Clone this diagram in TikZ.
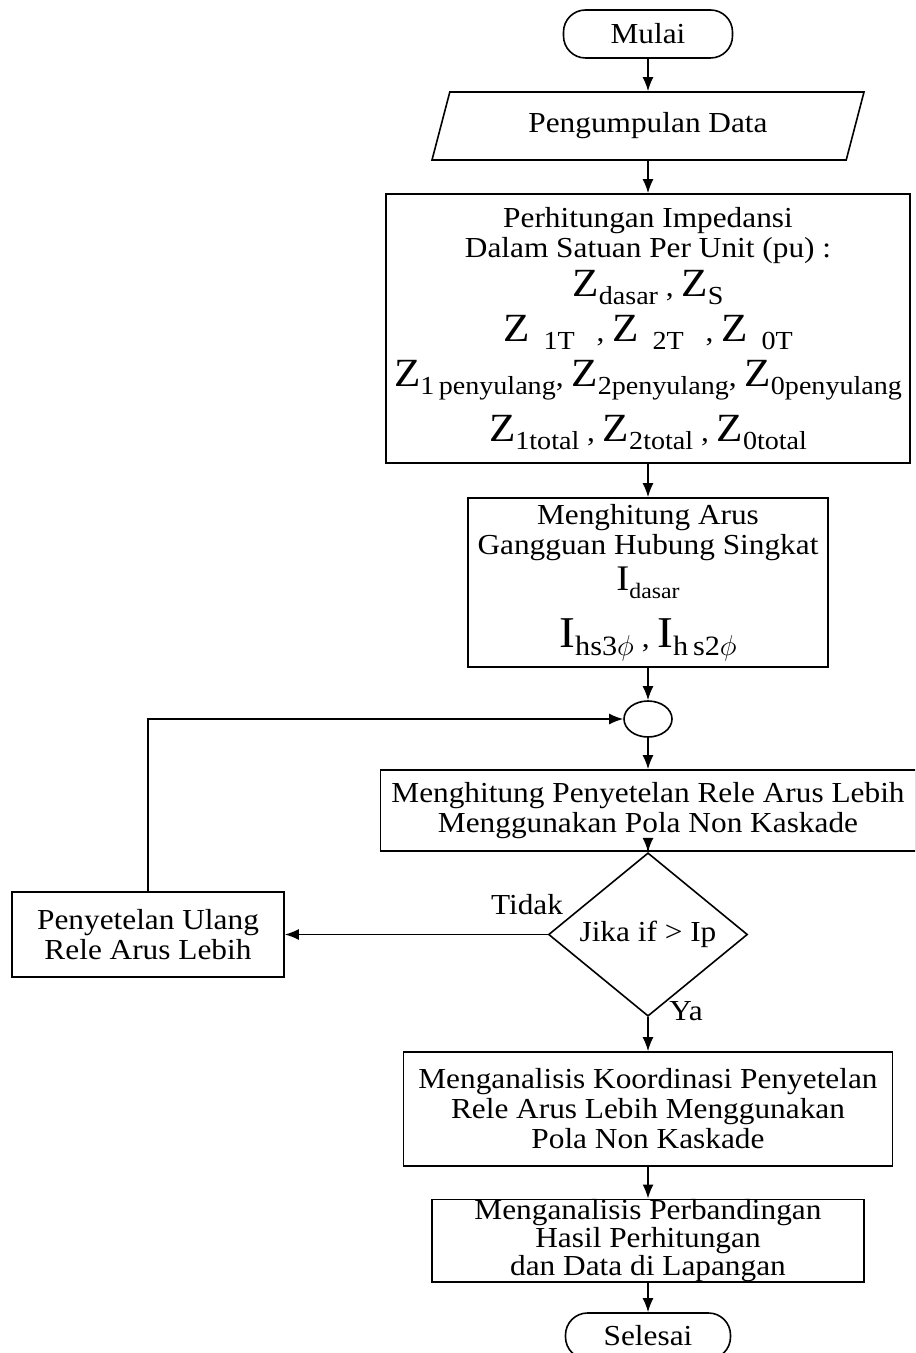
\documentclass[tikz,border=0pt]{standalone}
\usepackage{fontspec}
\setmainfont{Liberation Serif}[FakeStretch=1.08]
\usetikzlibrary{shapes.geometric,arrows.meta}
\tikzstyle{proses}=[draw=black, rectangle, align=center, inner sep=0pt]
\tikzstyle{terminal}=[draw=black, rectangle, rounded corners=11pt, inner sep=0pt]
\tikzstyle{masukan}=[draw=black, trapezium, trapezium left angle=56, trapezium right angle=124, trapezium stretches body, inner sep=0pt]
\tikzstyle{keputusan}=[draw=black, diamond, inner sep=0pt]
\tikzstyle{keterangan}=[inner sep=0pt]
\tikzstyle{panah}=[-{Latex[length=7pt,width=5.5pt]}]
\newcommand{\zsub}[1]{{\fontsize{20}{20}\selectfont Z}\raisebox{-4pt}{\fontsize{13}{13}\selectfont #1}}
\newcommand{\isub}[3]{{\fontsize{#1}{#1}\selectfont I}\raisebox{-4pt}{\fontsize{#2}{#2}\selectfont #3}}

\begin{document}
\begin{tikzpicture}[style=thick, x=0.5pt, y=-0.5pt, font=\fontsize{14.5}{15}\selectfont]
	\useasboundingbox (0,0) rectangle (915,1353);
	\clip (0,0) rectangle (915,1353);
	% alur utama
	\node[terminal, minimum width=84.5pt, minimum height=24pt] (mulai) at (648,34) {Mulai};
	\node[masukan, minimum width=216pt, minimum height=34pt] (data) at (648,126) {Pengumpulan Data};
	\node[proses, minimum width=262pt, minimum height=134.5pt] (imp) at (648,328.5) {Perhitungan Impedansi\\ Dalam Satuan Per Unit (pu) :\\[2.5pt]
		\zsub{dasar} , \zsub{S}\\[4pt]
		\zsub{\hspace{7pt}1T\hspace{7pt}} , \zsub{\hspace{7pt}2T\hspace{7pt}} , \zsub{\hspace{7pt}0T}\\[4.5pt]
		\zsub{1\,penyulang}, \zsub{2penyulang}, \zsub{0penyulang}\\[6.5pt]
		\zsub{1total} , \zsub{2total} , \zsub{0total}};
	\node[proses, minimum width=180pt, minimum height=84.5pt] (arus) at (648,582.5) {Menghitung Arus\\ Gangguan Hubung Singkat\\[3pt]
		\isub{18}{11}{dasar}\\[9pt]
		\isub{22}{14}{hs3$\phi$} , \isub{22}{14}{h\,s2$\phi$}};
	\node[draw=black, ellipse, inner sep=0pt, minimum width=24pt, minimum height=18pt] (gabung) at (648,719) {};
	\node[proses, minimum width=267.5pt, minimum height=40.5pt] (setel) at (648,810.5) {Menghitung Penyetelan Rele Arus Lebih\\ Menggunakan Pola Non Kaskade};
	\node[keputusan, minimum width=99.5pt, minimum height=57.5pt] (cek) at (648,934.5) {Jika if > Ip};
	\node[proses, minimum width=136pt, minimum height=42.5pt] (ulang) at (148,934.5) {Penyetelan Ulang\\ Rele Arus Lebih};
	\node[proses, minimum width=244.5pt, minimum height=57pt] (analisis) at (648,1109) {Menganalisis Koordinasi Penyetelan\\ Rele Arus Lebih Menggunakan\\ Pola Non Kaskade};
	\node[proses, minimum width=216pt, minimum height=40.5pt, font=\fontsize{14.5}{14}\selectfont] (banding) at (648,1240.5) {Menganalisis Perbandingan\\ Hasil Perhitungan\\ dan Data di Lapangan};
	\node[terminal, minimum width=82.5pt, minimum height=23pt] (selesai) at (648,1336) {Selesai};
	% label cabang
	\node[keterangan] (tidak) at (527,905) {Tidak};
	\node[keterangan] (ya) at (686,1011) {Ya};
	% panah
	\draw[panah] (mulai) -- (data);
	\draw[panah] (data) -- (imp);
	\draw[panah] (imp) -- (arus);
	\draw[panah] (arus) -- (gabung);
	\draw[panah] (gabung) -- (setel);
	\draw[panah] (setel) -- (cek);
	\draw[panah] (cek) -- (analisis);
	\draw[panah] (analisis) -- (banding);
	\draw[panah] (banding) -- (selesai);
	\draw[panah] (cek.west) -- (ulang.east);
	\draw[panah] (ulang.north) |- (gabung.west);
\end{tikzpicture}
\end{document}
